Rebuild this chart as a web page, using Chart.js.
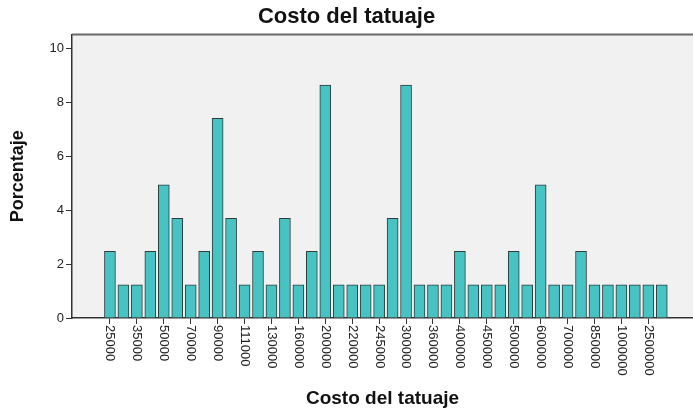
<!DOCTYPE html>
<html>
<head>
<meta charset="utf-8">
<script src="https://cdn.jsdelivr.net/npm/chart.js@4"></script>
<style>
  html, body { margin: 0; padding: 0; background: #ffffff; }
  #wrap { width: 693px; height: 412px; }
</style>
</head>
<body>
<div id="wrap"><canvas id="grafico" width="693" height="412"></canvas></div>
<script>
// categorias (costo) - solo las pares se ven en el eje
var costos = ["25000", "30000", "35000", "40000", "50000", "60000", "70000", "80000", "90000", "100000",
              "111000", "120000", "130000", "150000", "160000", "180000", "200000", "210000", "220000", "230000",
              "245000", "250000", "300000", "350000", "360000", "380000", "400000", "420000", "450000", "480000",
              "500000", "550000", "600000", "650000", "700000", "800000", "850000", "900000", "1000000", "1500000",
              "2500000", "3000000"];
// porcentaje de cada costo
var porcentajes = [2.47, 1.23, 1.23, 2.47, 4.94, 3.70, 1.23, 2.47, 7.41, 3.70,
                   1.23, 2.47, 1.23, 3.70, 1.23, 2.47, 8.64, 1.23, 1.23, 1.23,
                   1.23, 3.70, 8.64, 1.23, 1.23, 1.23, 2.47, 1.23, 1.23, 1.23,
                   2.47, 1.23, 4.94, 1.23, 1.23, 2.47, 1.23, 1.23, 1.23, 1.23,
                   1.23, 1.23];
var yTicks = [0, 2, 4, 6, 8, 10];

var fuente = "'Liberation Sans', Arial, sans-serif";

var puntos = [];
for (var i = 0; i < porcentajes.length; i++) {
    puntos.push({x: i, y: porcentajes[i]});
}

// fondo gris y borde superior del area
var fondo = {
    id: 'fondo',
    beforeDraw: function(chart) {
        var a = chart.chartArea, ctx = chart.ctx;
        ctx.save();
        ctx.fillStyle = '#F0F1F0';
        ctx.fillRect(a.left, a.top, a.right - a.left, a.bottom - a.top);
        ctx.restore();
    },
    afterDraw: function(chart) {
        var a = chart.chartArea, ctx = chart.ctx;
        ctx.save();
        ctx.strokeStyle = '#6a6a6a';
        ctx.lineWidth = 2;
        ctx.beginPath();
        ctx.moveTo(a.left, a.top);
        ctx.lineTo(a.right, a.top);
        ctx.stroke();
        // etiquetas del eje x, giradas hacia abajo
        var sx = chart.scales.x;
        ctx.fillStyle = '#222';
        ctx.font = "13px " + fuente;
        ctx.textAlign = 'left';
        ctx.textBaseline = 'middle';
        for (var i = 0; i < costos.length; i += 2) {
            ctx.save();
            ctx.translate(sx.getPixelForValue(i), a.bottom + 7);
            ctx.rotate(Math.PI / 2);
            ctx.fillText(costos[i], 0, 0);
            ctx.restore();
        }
        ctx.restore();
    }
};

new Chart('grafico', {
    type: 'bar',
    data: {
        datasets: [{
            data: puntos,
            backgroundColor: '#48C3C3',
            borderColor: '#2E3C3C',
            borderWidth: 1,
            barThickness: 11
        }]
    },
    plugins: [fondo],
    options: {
        responsive: false,
        animation: false,
        layout: { padding: 0 },
        plugins: {
            legend: { display: false },
            tooltip: { enabled: false },
            title: {
                display: true,
                text: 'Costo del tatuaje',
                color: '#111',
                font: { family: fuente, size: 22, weight: 'bold' },
                padding: { top: 4, bottom: 4 }
            }
        },
        scales: {
            x: {
                type: 'linear',
                offset: false,
                min: -2.82,
                max: 43.32,
                afterBuildTicks: function(axis) {
                    var t = [];
                    for (var i = 0; i < costos.length; i += 2) t.push({value: i});
                    axis.ticks = t;
                },
                afterFit: function(axis) { axis.height = 94; },
                ticks: { display: false },
                grid: { offset: false, drawOnChartArea: false, drawTicks: true, tickLength: 6, color: '#333', lineWidth: 1 },
                border: { display: true, color: '#333', width: 1.5 },
                title: {
                    display: true,
                    text: 'Costo del tatuaje',
                    color: '#111',
                    font: { family: fuente, size: 19, weight: 'bold' },
                    padding: { top: 0, bottom: 2 }
                }
            },
            y: {
                min: 0,
                max: 10.52,
                afterBuildTicks: function(axis) {
                    axis.ticks = yTicks.map(function(v) { return {value: v}; });
                },
                afterFit: function(axis) { axis.width = 72; },
                ticks: { color: '#222', font: { family: fuente, size: 13 }, padding: 2 },
                grid: { drawOnChartArea: false, drawTicks: true, tickLength: 6, color: '#333' },
                border: { display: true, color: '#333', width: 1.5 },
                title: {
                    display: true,
                    text: 'Porcentaje',
                    color: '#111',
                    font: { family: fuente, size: 18, weight: 'bold' },
                    padding: { top: 7, bottom: 0 }
                }
            }
        }
    }
});
</script>
</body>
</html>
